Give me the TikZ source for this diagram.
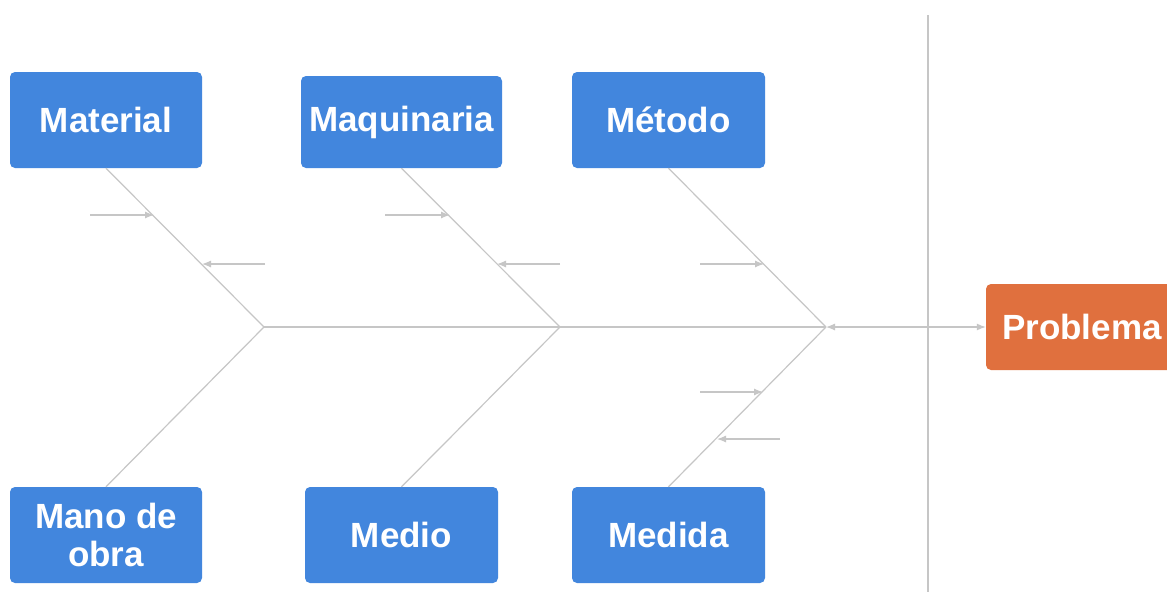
\documentclass[tikz,border=0pt]{standalone}
\usepackage{fontspec}
\setmainfont{Liberation Sans}
\usetikzlibrary{arrows.meta}
\definecolor{causeblue}{HTML}{4286DD}
\definecolor{effectorange}{HTML}{E0703E}
\definecolor{bonegray}{HTML}{C6C6C6}
\begin{document}
\begin{tikzpicture}[x=1pt,y=-1pt,
  box/.style={rounded corners=5pt, text=white, align=center, inner sep=0pt,
    font=\fontsize{35}{38}\selectfont\bfseries},
  cause/.style={box, fill=causeblue, minimum width=193pt, minimum height=96pt},
  effect/.style={box, fill=effectorange, minimum width=192pt, minimum height=86pt},
  bone/.style={draw=bonegray, line width=1.2pt},
  tip/.style={-{Latex[length=9pt,width=7pt]}},
  twotips/.style={{Latex[length=9pt,width=7pt]}-{Latex[length=9pt,width=7pt]}}
]
\useasboundingbox (0,0) rectangle (1167,592);
\fill[white] (0,0) rectangle (1167,592);

% cause boxes
\node[cause, minimum width=192pt] (mat)  at (106,120)   {Material};
\node[cause, minimum width=201pt, minimum height=92pt] (maq) at (401.5,122) {Maquinaria};
\node[cause] (met)  at (668.5,120) {Método};
\node[cause, minimum width=192pt] (mano) at (106,535)   {Mano de\\obra};
\node[cause] (medio) at (401.5,535) {Medio};
\node[cause] (medida) at (668.5,535) {Medida};

% effect box
\node[effect] (prob) at (1082,327) {Problema};

% joints on the spine
\coordinate (j1) at (264,327);
\coordinate (j2) at (560,327);
\coordinate (j3) at (826,327);

% separator
\coordinate (sepTop) at (928,15);
\coordinate (sepBot) at (928,592);
\draw[bone] (sepTop) -- (sepBot);

% spine
\draw[bone] (j1) -- (j3);
\draw[bone, twotips] (j3) -- (prob.west);

% main bones
\draw[bone] (mat.south)    -- (j1);
\draw[bone] (mano.north)   -- (j1);
\draw[bone] (maq.south)    -- (j2);
\draw[bone] (medio.north)  -- (j2);
\draw[bone] (met.south)    -- (j3);
\draw[bone] (medida.north) -- (j3);

% sub-causes
\coordinate (s1a) at (90,215);  \coordinate (s1b) at (154,215);
\coordinate (s2a) at (265,264); \coordinate (s2b) at (202,264);
\coordinate (s3a) at (385,215); \coordinate (s3b) at (450,215);
\coordinate (s4a) at (560,264); \coordinate (s4b) at (497,264);
\coordinate (s5a) at (700,264); \coordinate (s5b) at (764,264);
\coordinate (s6a) at (700,392); \coordinate (s6b) at (763,392);
\coordinate (s7a) at (780,439); \coordinate (s7b) at (717,439);
\foreach \i in {1,...,7}
  \draw[bone, tip] (s\i a) -- (s\i b);
\end{tikzpicture}
\end{document}
